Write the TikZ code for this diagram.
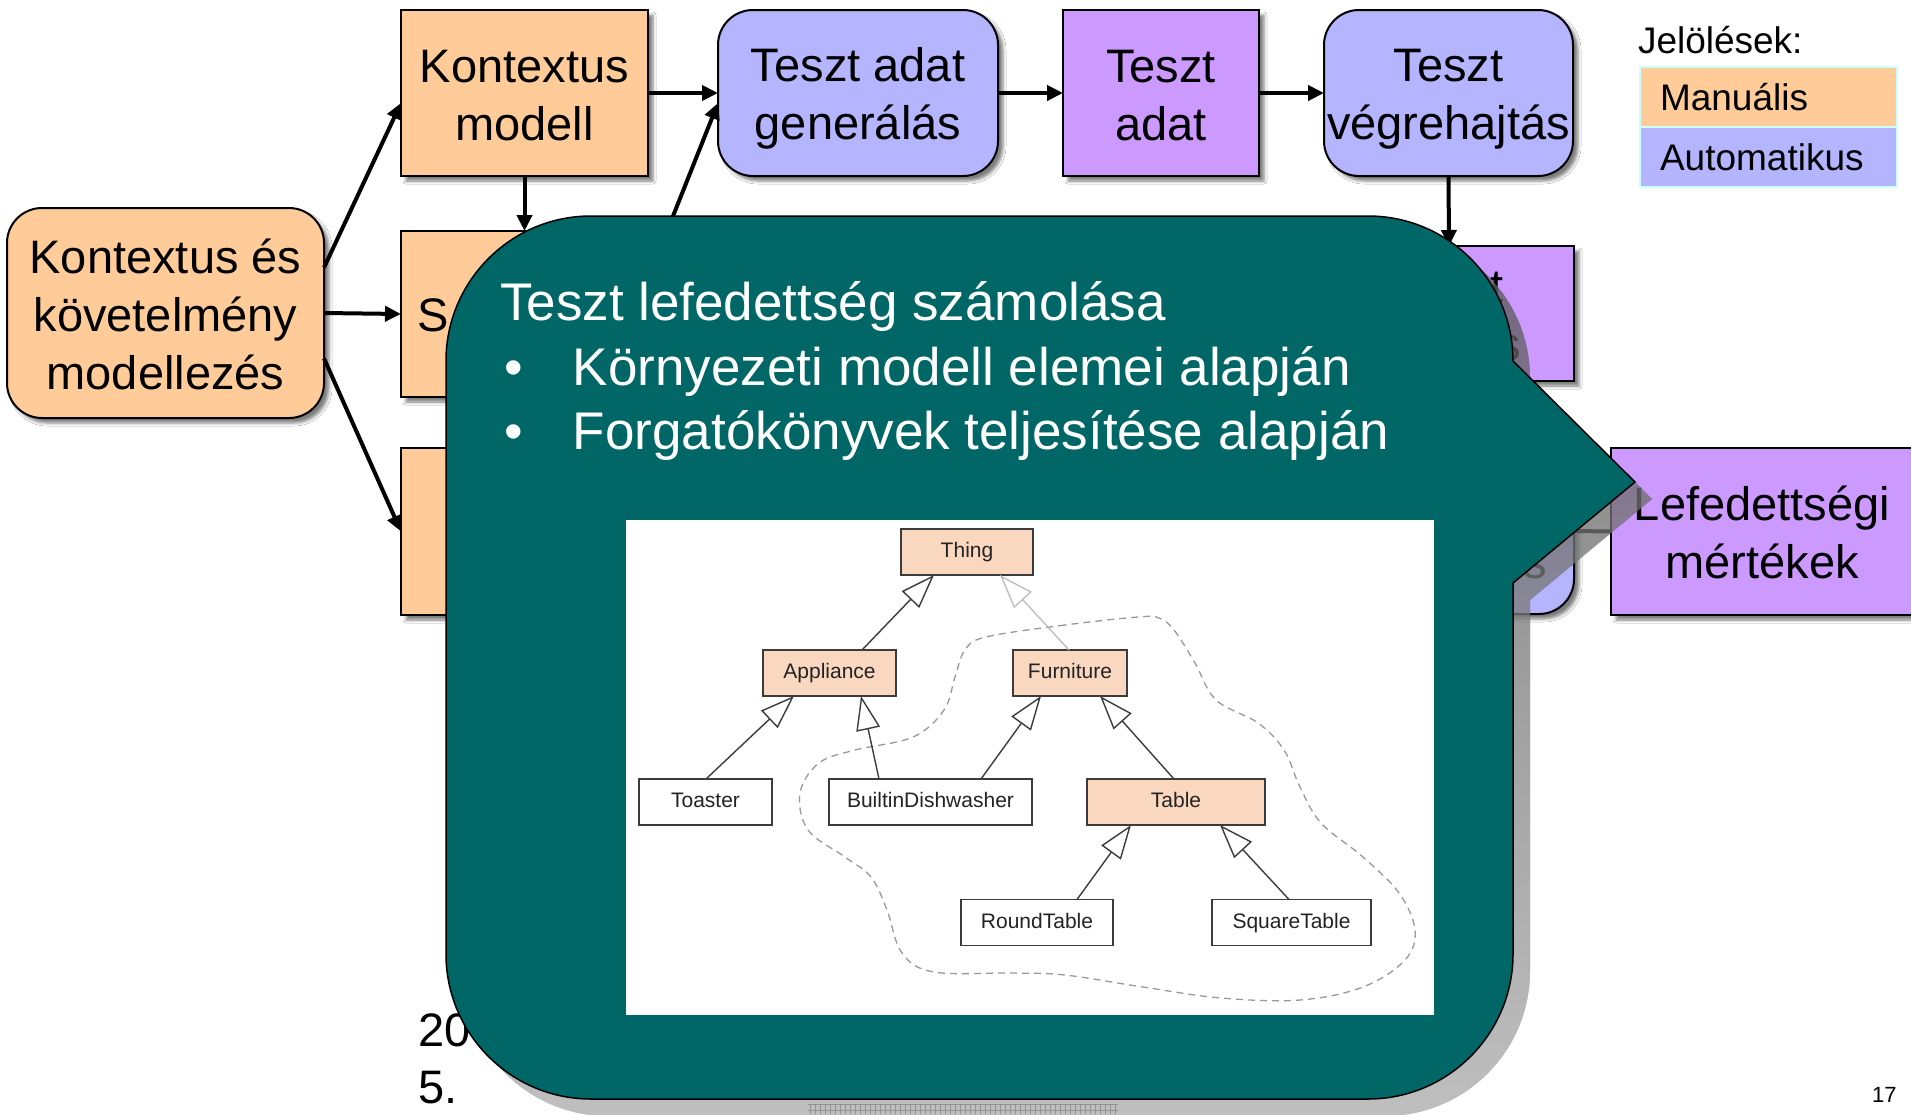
\documentclass[tikz,border=0pt]{standalone}
\usepackage{fontspec}
\setmainfont{Liberation Sans}
\usetikzlibrary{arrows.meta,calc,shadows.blur}
\definecolor{manual}{RGB}{255,204,153}
\definecolor{auto}{RGB}{180,180,255}
\definecolor{artifact}{RGB}{204,153,255}
\definecolor{tealbox}{RGB}{0,102,102}
\definecolor{umlpeach}{RGB}{250,216,192}
\definecolor{umlline}{RGB}{60,60,60}
\definecolor{umltext}{RGB}{35,35,35}
\definecolor{legendedge}{RGB}{204,255,255}
\definecolor{shade}{RGB}{130,130,130}
\newcommand\lnstrut{\rule[-8pt]{0pt}{52pt}}
\begin{document}
\begin{tikzpicture}[x=1pt,y=-1pt,
  every node/.style={inner sep=0pt, outer sep=0pt},
  bigfont/.style={font=\fontsize{47}{58}\selectfont},
  stage/.style={draw=black, line width=2pt, align=center, bigfont,
    blur shadow={shadow xshift=5pt, shadow yshift=-5pt, shadow blur radius=3pt, shadow opacity=50}},
  manualbox/.style={stage, fill=manual},
  autobox/.style={stage, fill=auto, rounded corners=35pt},
  databox/.style={stage, fill=artifact},
  flow/.style={line width=4pt, -{Triangle[length=16pt,width=15pt]}},
  labeltext/.style={anchor=base west, bigfont},
  legendbox/.style={draw=legendedge, line width=2pt, anchor=north west,
    text width=217pt, inner xsep=20pt, minimum height=60pt, align=left,
    font=\fontsize{37}{44}\selectfont},
  umlbox/.style={draw=umlline, line width=1.4pt, minimum height=46pt,
    text height=15pt, text depth=4pt, font=\fontsize{21}{25}\selectfont, text=umltext},
  inherit/.style={draw=umlline, line width=1.4pt, -{Triangle[open, length=34pt, width=24pt]}},
  calloutfont/.style={anchor=base west, text=white, font=\fontsize{53}{64}\selectfont},
]
\fill[white] (0,0) rectangle (1911,1114);
\useasboundingbox (0,0) rectangle (1911,1114);

% ---------- process stages ----------
\node[manualbox, rounded corners=35pt, minimum width=317pt, minimum height=210pt] (kek) at (165.5,313)
  {\lnstrut Kontextus és\\\lnstrut követelmény\\\lnstrut modellezés};
\node[manualbox, minimum width=247pt, minimum height=166pt] (km) at (524.5,93)
  {\lnstrut Kontextus\\\lnstrut modell};
\node[manualbox, minimum width=247pt, minimum height=166pt] (sm) at (524.5,314) {};
\node[labeltext] (smtext) at (417,331) {S};
\node[manualbox, minimum width=247pt, minimum height=167pt] (rb) at (524.5,531.5) {};
\node[autobox, minimum width=280pt, minimum height=166pt] (gen) at (858,93)
  {\lnstrut Teszt adat\\\lnstrut generálás};
\node[databox, minimum width=196pt, minimum height=166pt] (ta) at (1161,93)
  {\lnstrut Teszt\\\lnstrut adat};
\node[autobox, minimum width=249pt, minimum height=166pt] (vh) at (1448.5,93)
  {\lnstrut Teszt\\\lnstrut végrehajtás};
\node[databox, minimum width=250pt, minimum height=135pt] (tr) at (1449,313.5)
  {\lnstrut Teszt\\\lnstrut};
\node[labeltext] (trtext) at (1497,360) {s};
\node[autobox, minimum width=250pt, minimum height=166pt] (ki) at (1449,531) {};
\node[labeltext] (kitext) at (1523,578) {s};
\node[databox, minimum width=302pt, minimum height=167pt] (lm) at (1762,531.5)
  {\lnstrut Lefedettségi\\\lnstrut mértékek};

% ---------- connectors ----------
\draw[flow] (kek.16) -- ($(km.west)+(0,10)$);
\draw[flow] (kek.east) -- (sm.west);
\draw[flow] (kek.-16) -- (rb.west);
\draw[flow] (km.south) -- (sm.north);
\draw[flow] (km.east) -- (gen.west);
\draw[flow] ($(sm.east)+(0,-35)$) -- ($(gen.west)+(0,10)$);
\draw[flow] (gen.east) -- (ta.west);
\draw[flow] (ta.east) -- (vh.west);
\draw[flow] (vh.south) -- (tr.north);
\draw[line width=4pt] (ki.east) -- (lm.west);

% ---------- legend ----------
\node[anchor=base west, font=\fontsize{37}{44}\selectfont] (legtitle) at (1638,53) {Jelölések:};
\node[legendbox, fill=manual] (legman) at (1640,67) {Manuális};
\node[legendbox, fill=auto] (legauto) at (1640,127) {Automatikus};

% ---------- footer ----------
\node[labeltext] (yeartext) at (418,1046) {20};
\node[labeltext] (daytext) at (418,1103) {5.};
\node[anchor=base west, font=\fontsize{22}{26}\selectfont] (pageno) at (1872,1102) {17};
\draw[black!75, line width=0.6pt] (808,1104) -- (1118,1104) (808,1110) -- (1118,1110);
\foreach \x in {810,815,...,1116} \draw[black!75, line width=0.6pt] (\x,1104) -- (\x,1114);

% ---------- callout ----------
\fill[shade, fill opacity=.52, shift={(17,17)}]
  (591,216) -- (1368,216) .. controls (1448,216) and (1513,281) .. (1513,361)
  -- (1635,482) -- (1513,583) -- (1513,954)
  .. controls (1513,1034) and (1448,1099) .. (1368,1099) -- (591,1099)
  .. controls (511,1099) and (446,1034) .. (446,954) -- (446,361)
  .. controls (446,281) and (511,216) .. (591,216) -- cycle;
\filldraw[fill=tealbox, draw=black, line width=1.5pt]
  (591,216) -- (1368,216) .. controls (1448,216) and (1513,281) .. (1513,361)
  -- (1635,482) -- (1513,583) -- (1513,954)
  .. controls (1513,1034) and (1448,1099) .. (1368,1099) -- (591,1099)
  .. controls (511,1099) and (446,1034) .. (446,954) -- (446,361)
  .. controls (446,281) and (511,216) .. (591,216) -- cycle;

\node[calloutfont] (ctitle) at (500,320) {Teszt lefedettség számolása};
\node[calloutfont] (cbullet1) at (504,385) {\makebox[69pt][l]{•}Környezeti modell elemei alapján};
\node[calloutfont] (cbullet2) at (504,449) {\makebox[69pt][l]{•}Forgatókönyvek teljesítése alapján};

% ---------- class hierarchy panel ----------
\node[fill=white, minimum width=808pt, minimum height=495pt, anchor=north west] (panel) at (626,520) {};

\draw[gray!80, line width=1.3pt, dash pattern=on 7pt off 5pt] plot[smooth cycle, tension=0.6] coordinates {
  (1138,617) (1065,625) (986,637) (965,650) (955,677) (944,710) (913,737) (855,750)
  (819,763) (800,793) (808,830) (845,857) (871,877) (887,910) (902,953) (934,972)
  (1012,973) (1065,975) (1143,987) (1221,998) (1300,1000) (1363,987) (1405,960)
  (1415,930) (1399,893) (1363,857) (1321,823) (1300,787) (1284,750) (1258,723)
  (1216,700) (1195,663) (1174,630) (1159,618)};

\node[umlbox, fill=umlpeach, minimum width=132pt] (thing) at (967,552) {Thing};
\node[umlbox, fill=umlpeach, minimum width=133pt] (appl) at (829.5,673) {Appliance};
\node[umlbox, fill=umlpeach, minimum width=114pt] (furn) at (1070,673) {Furniture};
\node[umlbox, fill=white, minimum width=133pt] (toast) at (705.5,802) {Toaster};
\node[umlbox, fill=white, minimum width=203pt] (dish) at (930.5,802) {BuiltinDishwasher};
\node[umlbox, fill=umlpeach, minimum width=178pt] (table) at (1176,802) {Table};
\node[umlbox, fill=white, minimum width=152pt] (round) at (1037,922.5) {RoundTable};
\node[umlbox, fill=white, minimum width=159pt] (square) at (1291.5,922.5) {SquareTable};

\draw[inherit] ($(appl.north)+(32.5,0)$) -- ($(thing.south)+(-33,0)$);
\draw[inherit, draw=black!25] ($(furn.north)+(-1,0)$) -- ($(thing.south)+(33,0)$);
\draw[inherit] ($(toast.north)+(0.5,0)$) -- ($(appl.south)+(-35.5,0)$);
\draw[inherit] ($(dish.north)+(-51.5,0)$) -- ($(appl.south)+(31.5,0)$);
\draw[inherit] ($(dish.north)+(50.5,0)$) -- ($(furn.south)+(-29,0)$);
\draw[inherit] ($(table.north)+(-2,0)$) -- ($(furn.south)+(30,0)$);
\draw[inherit] ($(round.north)+(40,0)$) -- ($(table.south)+(-45,0)$);
\draw[inherit] ($(square.north)+(-2.5,0)$) -- ($(table.south)+(44,0)$);
\end{tikzpicture}
\end{document}
